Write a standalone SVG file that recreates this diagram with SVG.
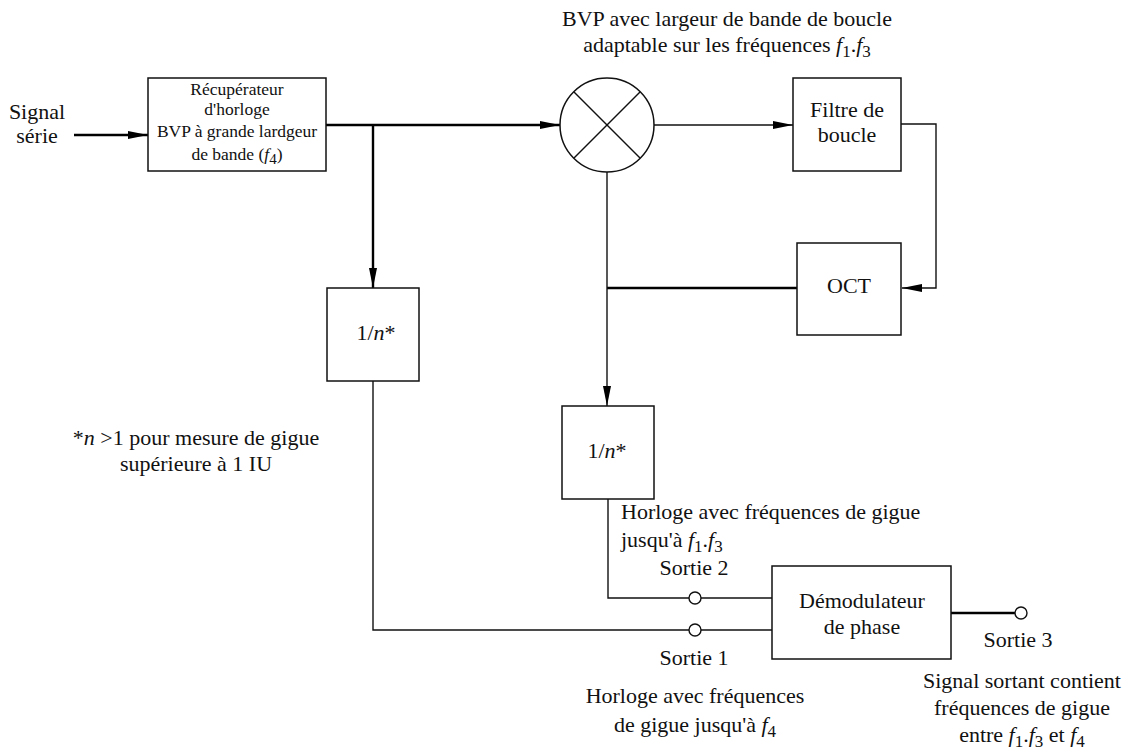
<svg xmlns="http://www.w3.org/2000/svg" width="1134" height="753" viewBox="0 0 1134 753">
<style>
text{font-family:"Liberation Serif","Times New Roman",serif;font-size:22px;fill:#111}
.sm{font-size:17.5px}
.c{text-anchor:middle}
.i{font-style:italic}
.sub{font-size:17px}
.box{fill:#fff;stroke:#111;stroke-width:1.5}
.thin{fill:none;stroke:#111;stroke-width:1.4}
.bold{fill:none;stroke:#000;stroke-width:2.4}
.port{fill:#fff;stroke:#111;stroke-width:1.4}
</style>
<defs>
<marker id="ah" markerWidth="20" markerHeight="8" refX="20" refY="4" orient="auto" markerUnits="userSpaceOnUse">
<path d="M0,0 L20,4 L0,8 Z" fill="#000"/>
</marker>
</defs>
<rect width="1134" height="753" fill="#fff"/>

<g id="connectors">
<line class="bold" x1="74" y1="135" x2="148" y2="135" marker-end="url(#ah)"/>
<line class="bold" x1="326" y1="125" x2="560" y2="125" marker-end="url(#ah)"/>
<polyline class="bold" points="373,125 373,288" marker-end="url(#ah)"/>
<line class="thin" x1="654" y1="125" x2="793" y2="125" marker-end="url(#ah)"/>
<polyline class="thin" points="901,124 936,124 936,288 902,288" marker-end="url(#ah)"/>
<line class="bold" x1="797" y1="288" x2="607" y2="288"/>
<polyline class="thin" points="607,172 607,406" marker-end="url(#ah)"/>
<polyline class="thin" points="373,381 373,630 689,630"/>
<line class="thin" x1="701" y1="630" x2="772" y2="630"/>
<polyline class="thin" points="608,499 608,598 689,598"/>
<line class="thin" x1="701" y1="598" x2="772" y2="598"/>
<line class="bold" x1="951" y1="613" x2="1015" y2="613"/>
</g>

<g id="input-label">
<text class="c" x="37" y="119">Signal</text>
<text class="c" x="37" y="143">série</text>
</g>

<g id="recuperateur">
<rect class="box" x="148" y="78" width="178" height="93"/>
<text class="sm c" x="237" y="95">Récupérateur</text>
<text class="sm c" x="237" y="115">d'horloge</text>
<text class="sm c" x="237" y="137">BVP à grande lardgeur</text>
<text class="sm c" x="237" y="160">de bande (<tspan class="i">f</tspan><tspan dy="4" font-size="15">4</tspan><tspan dy="-4">)</tspan></text>
</g>

<g id="title">
<text class="c" x="727" y="26">BVP avec largeur de bande de boucle</text>
<text class="c" x="727" y="52">adaptable sur les fréquences <tspan class="i">f</tspan><tspan class="sub" dy="5">1</tspan><tspan dy="-5">.</tspan><tspan class="i">f</tspan><tspan class="sub" dy="5">3</tspan></text>
</g>

<g id="mixer">
<circle cx="607" cy="125" r="47" fill="#fff" stroke="#111" stroke-width="1.5"/>
<line class="thin" x1="574" y1="92" x2="640" y2="158"/>
<line class="thin" x1="640" y1="92" x2="574" y2="158"/>
</g>

<g id="filtre">
<rect class="box" x="793" y="78" width="108" height="93"/>
<text class="c" x="847" y="117">Filtre de</text>
<text class="c" x="847" y="142">boucle</text>
</g>

<g id="oct">
<rect class="box" x="797" y="243" width="104" height="92"/>
<text class="c" x="849" y="293">OCT</text>
</g>

<g id="div1">
<rect class="box" x="327" y="288" width="92" height="93"/>
<text class="c" x="376" y="340">1/<tspan class="i">n</tspan>*</text>
</g>

<g id="footnote">
<text class="c" x="196" y="445">*<tspan class="i">n</tspan> &gt;1 pour mesure de gigue</text>
<text class="c" x="196" y="471">supérieure à 1 IU</text>
</g>

<g id="div2">
<rect class="box" x="562" y="406" width="92" height="93"/>
<text class="c" x="607" y="458">1/<tspan class="i">n</tspan>*</text>
</g>

<g id="label-horloge-f13">
<text x="621" y="519">Horloge avec fréquences de gigue</text>
<text x="621" y="547">jusqu'à <tspan class="i">f</tspan><tspan class="sub" dy="5">1</tspan><tspan dy="-5">.</tspan><tspan class="i">f</tspan><tspan class="sub" dy="5">3</tspan></text>
</g>

<g id="sortie2">
<circle class="port" cx="695" cy="598" r="6"/>
<text class="c" x="694" y="575">Sortie 2</text>
</g>

<g id="sortie1">
<circle class="port" cx="695" cy="630" r="6"/>
<text class="c" x="694" y="665">Sortie 1</text>
<text class="c" x="695" y="703">Horloge avec fréquences</text>
<text class="c" x="695" y="732">de gigue jusqu'à <tspan class="i">f</tspan><tspan class="sub" dy="5">4</tspan></text>
</g>

<g id="demodulateur">
<rect class="box" x="772" y="566" width="179" height="93"/>
<text class="c" x="862" y="608">Démodulateur</text>
<text class="c" x="862" y="634">de phase</text>
</g>

<g id="sortie3">
<circle class="port" cx="1021" cy="613" r="6"/>
<text class="c" x="1018" y="647">Sortie 3</text>
<text class="c" x="1022" y="688">Signal sortant contient</text>
<text class="c" x="1022" y="715">fréquences de gigue</text>
<text class="c" x="1022" y="742">entre <tspan class="i">f</tspan><tspan class="sub" dy="5">1</tspan><tspan dy="-5">.</tspan><tspan class="i">f</tspan><tspan class="sub" dy="5">3</tspan><tspan dy="-5"> et </tspan><tspan class="i">f</tspan><tspan class="sub" dy="5">4</tspan></text>
</g>
</svg>
